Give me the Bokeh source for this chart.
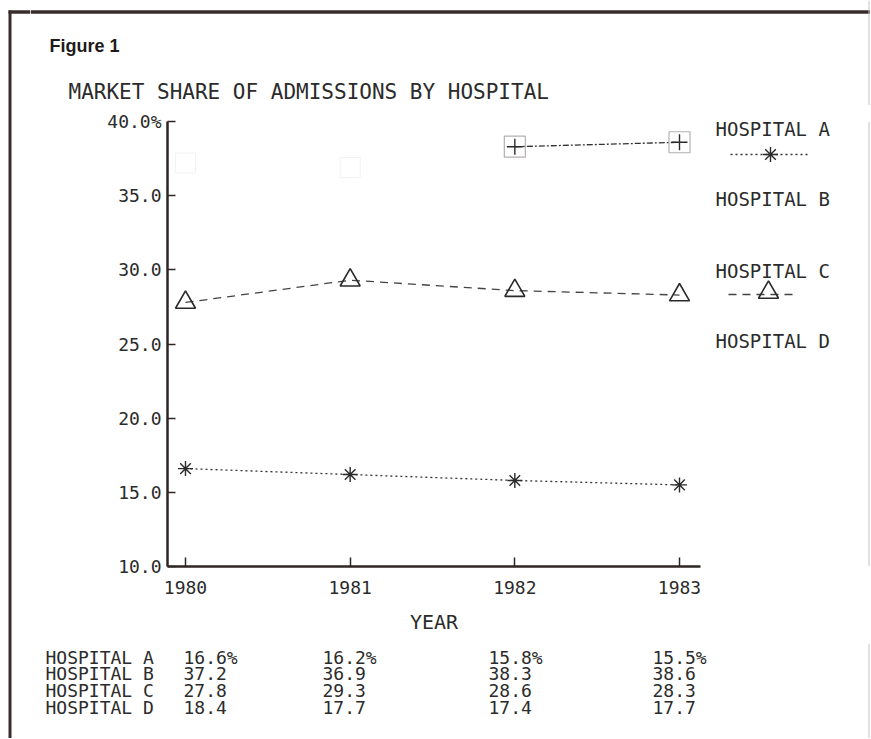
from bokeh.plotting import figure
from bokeh.layouts import column, row
from bokeh.models import FixedTicker, Range1d
from bokeh.core.properties import value
from bokeh.embed import file_html
from bokeh.resources import INLINE

# ---------------- data ----------------
years = [1980, 1981, 1982, 1983]
year_labels = ["1980", "1981", "1982", "1983"]
hosp_a = [16.6, 16.2, 15.8, 15.5]
hosp_b = [37.2, 36.9, 38.3, 38.6]
hosp_c = [27.8, 29.3, 28.6, 28.3]
hosp_d = [18.4, 17.7, 17.4, 17.7]
hospital_names = ["HOSPITAL A", "HOSPITAL B", "HOSPITAL C", "HOSPITAL D"]
y_ticks = [10, 15, 20, 25, 30, 35, 40]
y_tick_labels = ["10.0", "15.0", "20.0", "25.0", "30.0", "35.0", "40.0%"]
b_printed_from = 2   # hospital B is only printed for 1982-1983 in the chart

INK = "#2e2525"
TXT = "#2b2b2b"
EDGE = "#3a2c2c"
MONO = "DejaVu Sans Mono"

# ---------------- page geometry (reference pixels) ----------------
TOTAL_W, TOTAL_H = 870, 738
STRIP_W = 30
HEAD_H = 105
MID_H = 538
FOOT_H = TOTAL_H - HEAD_H - MID_H
MAIN_W = 682
SIDE_W = TOTAL_W - STRIP_W - MAIN_W
L, R, T, B = 167, 700, 121, 566          # plot frame in page pixels
px_per_year = (679 - 185) / 3.0
x0 = 1980 - (185 - L) / px_per_year
x1 = 1983 + (R - 679) / px_per_year


def canvas(xs, ys, w, h, bt=0, bb=0):
    """Figure in page-pixel coordinates (y down); frame = canvas minus bt/bb."""
    f = figure(width=w, height=h, output_backend="svg", toolbar_location=None,
               x_range=Range1d(xs, xs + w), y_range=Range1d(ys + h - bb, ys + bt),
               x_axis_type=None, y_axis_type=None,
               min_border=0, min_border_left=0, min_border_right=0,
               min_border_top=bt, min_border_bottom=bb)
    f.grid.visible = False
    f.outline_line_color = None
    f.background_fill_color = "white"
    f.border_fill_color = "white"
    return f


# ---------------- left strip (page border) ----------------
strip = canvas(0, 0, STRIP_W, TOTAL_H)
strip.segment(x0=[9.5], y0=[10], x1=[9.5], y1=[TOTAL_H], line_color=EDGE, line_width=3)
strip.segment(x0=[8], y0=[11.5], x1=[STRIP_W], y1=[11.5], line_color=EDGE, line_width=3.5)

# ---------------- header ----------------
head = canvas(STRIP_W, 0, TOTAL_W - STRIP_W, HEAD_H)
head.segment(x0=[STRIP_W], y0=[11.5], x1=[TOTAL_W], y1=[11.5], line_color=EDGE, line_width=3.5)
head.segment(x0=[868.5], y0=[0], x1=[868.5], y1=[HEAD_H], line_color="#c4c4c4", line_width=1)
head.text(x=[49], y=[45], text=["Figure 1"], text_font=value("Liberation Sans"),
          text_font_size="18px", text_font_style="bold", text_color="#1f1a1a",
          text_baseline="middle")
head.text(x=[68], y=[91], text=["MARKET SHARE OF ADMISSIONS BY HOSPITAL"],
          text_font=value(MONO), text_font_size="21px", text_color=TXT,
          text_baseline="middle")

# ---------------- main plot ----------------
p = figure(width=MAIN_W, height=MID_H, output_backend="svg", toolbar_location=None,
           x_range=Range1d(x0, x1), y_range=Range1d(10, 40),
           min_border_left=L - STRIP_W, min_border_right=STRIP_W + MAIN_W - R,
           min_border_top=T - HEAD_H, min_border_bottom=HEAD_H + MID_H - B)
p.grid.visible = False
p.outline_line_color = None
p.background_fill_color = "white"
p.border_fill_color = "white"

p.yaxis.ticker = FixedTicker(ticks=y_ticks)
p.yaxis.major_label_overrides = {t: s for t, s in zip(y_ticks, y_tick_labels)}
p.xaxis.ticker = FixedTicker(ticks=years)
p.xaxis.major_label_overrides = {t: s for t, s in zip(years, year_labels)}
for ax in (p.xaxis, p.yaxis):
    ax.axis_line_color = INK
    ax.axis_line_width = 2.5
    ax.major_tick_line_color = INK
    ax.major_tick_line_width = 1.5
    ax.major_tick_out = 0
    ax.minor_tick_line_color = None
    ax.major_label_text_font = MONO
    ax.major_label_text_font_size = "18px"
    ax.major_label_text_color = TXT
p.yaxis.major_tick_in = 8
p.xaxis.major_tick_in = 9
p.yaxis.major_label_standoff = 6
p.xaxis.major_label_standoff = 14
p.xaxis.axis_label = "YEAR"
p.xaxis.axis_label_text_font = MONO
p.xaxis.axis_label_text_font_size = "20px"
p.xaxis.axis_label_text_font_style = "normal"
p.xaxis.axis_label_text_color = TXT
p.xaxis.axis_label_standoff = 13

# hospital A
p.line(years, hosp_a, line_color="#333", line_width=1.3, line_dash="2 3")
p.scatter(years, hosp_a, marker="asterisk", size=15, line_color="#2a2a2a", line_width=1.4)
# hospital B (faint remnants for 1980-81, printed for 1982-83)
p.scatter(years[:b_printed_from], hosp_b[:b_printed_from], marker="square", size=20,
          fill_color=None, line_color="#f2f2f2", line_width=1)
p.line(years[b_printed_from:], hosp_b[b_printed_from:], line_color="#333", line_width=1.3,
       line_dash="6 2 2 2")
p.scatter(years[b_printed_from:], hosp_b[b_printed_from:], marker="square", size=21,
          fill_color=None, line_color="#b5b0b0", line_width=1.2)
p.scatter(years[b_printed_from:], hosp_b[b_printed_from:], marker="cross", size=16,
          line_color="#2a2a2a", line_width=1.4)
# hospital C
p.line(years, hosp_c, line_color="#444", line_width=1.3, line_dash="8 6")
p.scatter(years, hosp_c, marker="triangle", size=20, fill_color=None,
          line_color="#2a2a2a", line_width=1.6)

# ---------------- side legend (frame aligned with the plot frame) ----------------
SX = STRIP_W + MAIN_W
side = canvas(SX, HEAD_H, SIDE_W, MID_H, bt=T - HEAD_H, bb=HEAD_H + MID_H - B)
legend_y = [128, 198, 270, 340]
side.text(x=[715] * 4, y=legend_y, text=hospital_names,
          text_font=value(MONO), text_font_size="19px", text_color=TXT,
          text_baseline="middle")
# sample of hospital A's style
side.line(x=[730, 807], y=[154, 154], line_color="#333", line_width=1.3, line_dash="2 3")
side.scatter(x=[770], y=[154], marker="asterisk", size=15, line_color="#2a2a2a", line_width=1.4)
# sample of hospital C's style
side.line(x=[728, 797], y=[294, 294], line_color="#444", line_width=1.3, line_dash="8 6")
side.scatter(x=[768], y=[292], marker="triangle", size=20, fill_color=None,
             line_color="#2a2a2a", line_width=1.6)
side.segment(x0=[868.5], y0=[T], x1=[868.5], y1=[B], line_color="#c4c4c4", line_width=1)

# ---------------- footer table ----------------
FY = HEAD_H + MID_H
foot = canvas(STRIP_W, FY, TOTAL_W - STRIP_W, FOOT_H)
foot.segment(x0=[868.5], y0=[FY], x1=[868.5], y1=[TOTAL_H], line_color="#c4c4c4", line_width=1)
row_y = [657, 673, 690, 707]
col_x = [183, 322, 488, 652]
table = [hosp_a, hosp_b, hosp_c, hosp_d]
tx, ty, tt = [], [], []
for r, (name, vals) in enumerate(zip(hospital_names, table)):
    tx.append(45); ty.append(row_y[r]); tt.append(name)
    for c, v in enumerate(vals):
        tx.append(col_x[c]); ty.append(row_y[r])
        tt.append(f"{v:.1f}%" if r == 0 else f"{v:.1f}")
foot.text(x=tx, y=ty, text=tt, text_font=value(MONO), text_font_size="18px",
          text_color=TXT, text_baseline="middle")

layout = row(strip, column(head, row(p, side), foot))
open("out.html", "w").write(file_html(layout, INLINE))
